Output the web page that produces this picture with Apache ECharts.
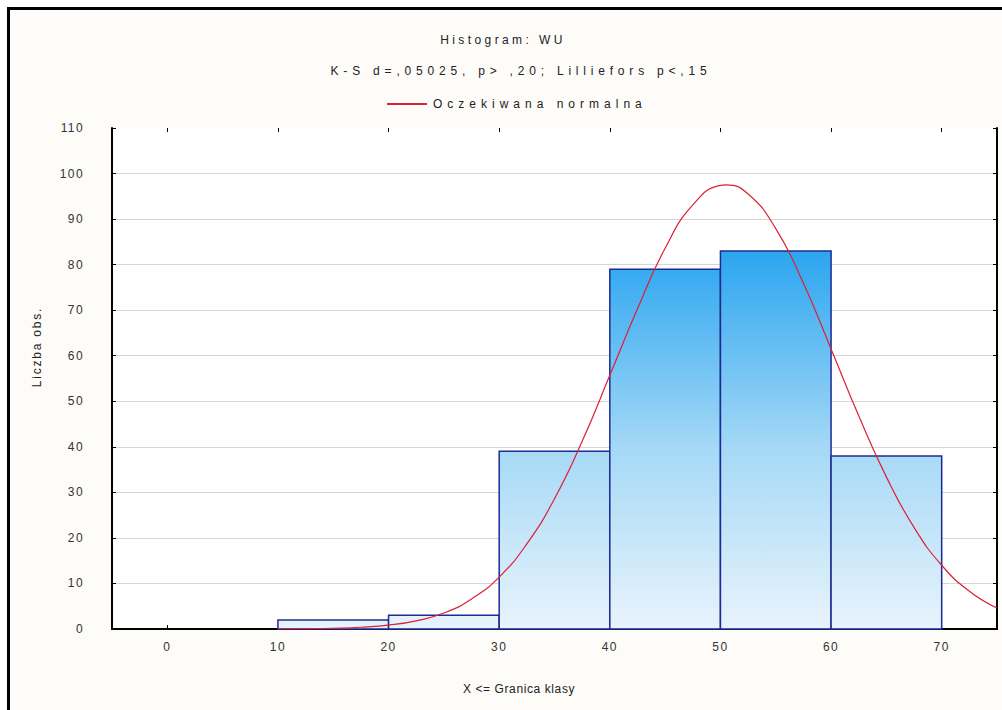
<!DOCTYPE html>
<html>
<head>
<meta charset="utf-8">
<script src="https://cdn.jsdelivr.net/npm/echarts@6/dist/echarts.min.js"></script>
<style>
  html, body { margin: 0; padding: 0; background: #ffffff; }
  #wrap { position: relative; width: 1002px; height: 710px; overflow: hidden; background: #ffffff; }
  #frame { position: absolute; left: 7px; top: 7px; width: 1010px; height: 720px; border: 3px solid #000; background: #fdfcf8; }
  #chart { position: absolute; left: 0; top: 0; width: 1002px; height: 710px; }
</style>
</head>
<body>
<div id="wrap"><div id="frame"></div><div id="chart"></div></div>
<script>
// ---- data ----
const titleText = 'Histogram: WU';
const subtitleText = 'K-S d=,05025, p> ,20; Lilliefors p<,15';
const legendName = 'Oczekiwana normalna';
const xAxisName = 'X <= Granica klasy';
const yAxisName = 'Liczba obs.';

const binStart = [10, 20, 30, 40, 50, 60];
const binEnd   = [20, 30, 40, 50, 60, 70];
const counts   = [2, 3, 39, 79, 83, 38];

const xTicks = [0, 10, 20, 30, 40, 50, 60, 70];

const curveX = [10, 12.5, 15, 17.5, 20, 22.5, 25, 27.5, 30, 32.5, 35, 37.5, 40, 42.5, 45, 47.5, 50, 50.5, 52.5, 55, 57.5, 60, 62.5, 65, 67.5, 70, 72.5, 75];
const curveY = [0.02, 0.06, 0.16, 0.38, 0.85, 1.8, 3.5, 6.6, 11.4, 18.7, 28.6, 41.2, 55.7, 70.3, 83.6, 93.1, 97.4, 97.5, 95.5, 87.9, 75.9, 61.5, 46.8, 33.4, 22.3, 14.0, 8.3, 4.6];

// ---- chart ----
const GRID = { left: 112, right: 5, top: 128, bottom: 81 };
const FONT = 'Liberation Sans, Arial, sans-serif';

const barFill = new echarts.graphic.LinearGradient(0, GRID.top, 0, 710 - GRID.bottom, [
  { offset: 0, color: '#0a8ce6' },
  { offset: 0.244, color: '#2ba5f0' },
  { offset: 0.643, color: '#a6d9f6' },
  { offset: 1, color: '#e8f3fc' }
], true);

const chart = echarts.init(document.getElementById('chart'), null, { renderer: 'svg', width: 1002, height: 710 });

const option = {
  animation: false,
  backgroundColor: 'transparent',
  textStyle: { fontFamily: FONT },
  grid: Object.assign({ show: true, backgroundColor: '#ffffff', borderWidth: 0, containLabel: false, outerBoundsMode: 'none' }, GRID),
  legend: {
    data: [{ name: legendName, icon: 'rect' }],
    left: 382, top: 93,
    itemWidth: 40, itemHeight: 2, itemGap: 5,
    textStyle: { fontSize: 12, color: '#222', fontFamily: FONT, padding: [0, 0, 0, 1] }
  },
  graphic: [
    { type: 'text', x: 503, y: 40, style: { text: titleText, font: '12px ' + FONT, fill: '#222', align: 'center', verticalAlign: 'middle' } },
    { type: 'text', x: 521, y: 71, style: { text: subtitleText, font: '12px ' + FONT, fill: '#222', align: 'center', verticalAlign: 'middle' } },
    { type: 'text', x: 519, y: 689, style: { text: xAxisName, font: '12px ' + FONT, fill: '#222', align: 'center', verticalAlign: 'middle' } },
    { type: 'text', x: 37, y: 347, rotation: Math.PI / 2, style: { text: yAxisName, font: '12px ' + FONT, fill: '#222', align: 'center', verticalAlign: 'middle' } }
  ],
  xAxis: [
    {
      type: 'value', min: -5, max: 75, position: 'bottom',
      axisLine: { show: true, onZero: false, lineStyle: { color: '#000', width: 2 } },
      axisTick: { show: true, inside: true, length: 4, customValues: xTicks, lineStyle: { color: '#000' } },
      axisLabel: { show: true, customValues: xTicks, margin: 12, fontSize: 12, color: '#333', fontFamily: FONT },
      splitLine: { show: false }
    },
    {
      type: 'value', min: -5, max: 75, position: 'top',
      axisLine: { show: false, onZero: false },
      axisTick: { show: true, inside: true, length: 4, customValues: xTicks, lineStyle: { color: '#000' } },
      axisLabel: { show: false },
      splitLine: { show: false }
    }
  ],
  yAxis: [
    {
      type: 'value', min: 0, max: 110, interval: 10, position: 'left',
      axisLine: { show: true, onZero: false, lineStyle: { color: '#000', width: 2 } },
      axisTick: { show: true, inside: true, length: 4, lineStyle: { color: '#000' } },
      axisLabel: { margin: 28, fontSize: 12, color: '#333', fontFamily: FONT },
      splitLine: { show: true, showMinLine: false, showMaxLine: false, lineStyle: { color: '#d6d6d6', width: 1 } }
    },
    {
      type: 'value', min: 0, max: 110, interval: 10, position: 'right',
      axisLine: { show: true, onZero: false, lineStyle: { color: '#000', width: 2 } },
      axisTick: { show: true, inside: true, length: 4, lineStyle: { color: '#000' } },
      axisLabel: { show: false },
      splitLine: { show: false }
    }
  ],
  series: [
    {
      type: 'custom',
      name: 'hist',
      xAxisIndex: 0, yAxisIndex: 0,
      z: 2,
      encode: { x: [0, 1], y: 2 },
      data: binStart.map((s, i) => [s, binEnd[i], counts[i]]),
      renderItem: function (params, api) {
        const p0 = api.coord([api.value(0), api.value(2)]);
        const p1 = api.coord([api.value(1), 0]);
        return {
          type: 'rect',
          shape: { x: p0[0], y: p0[1], width: p1[0] - p0[0], height: p1[1] - p0[1] },
          style: { fill: barFill, stroke: '#1c2b93', lineWidth: 1.5 }
        };
      }
    },
    {
      type: 'line',
      name: legendName,
      xAxisIndex: 0, yAxisIndex: 0,
      z: 4,
      smooth: true,
      symbol: 'none',
      showSymbol: false,
      lineStyle: { color: '#dc2035', width: 1.2 },
      itemStyle: { color: '#dc2035' },
      data: curveX.map((x, i) => [x, curveY[i]])
    }
  ]
};

chart.setOption(option);

const spacing = {};
spacing[titleText] = '3.4px';
spacing[subtitleText] = '4.8px';
spacing[legendName] = '5.0px';
spacing[yAxisName] = '1.8px';
spacing[xAxisName] = '0.6px';
function applySpacing() {
  document.querySelectorAll('#chart text').forEach(function (t) {
    const s = t.textContent;
    if (spacing[s] !== undefined) t.style.letterSpacing = spacing[s];
    else if (/^\d+$/.test(s)) t.style.letterSpacing = '1.4px';
  });
}
applySpacing();
chart.on('finished', applySpacing);
</script>
</body>
</html>
